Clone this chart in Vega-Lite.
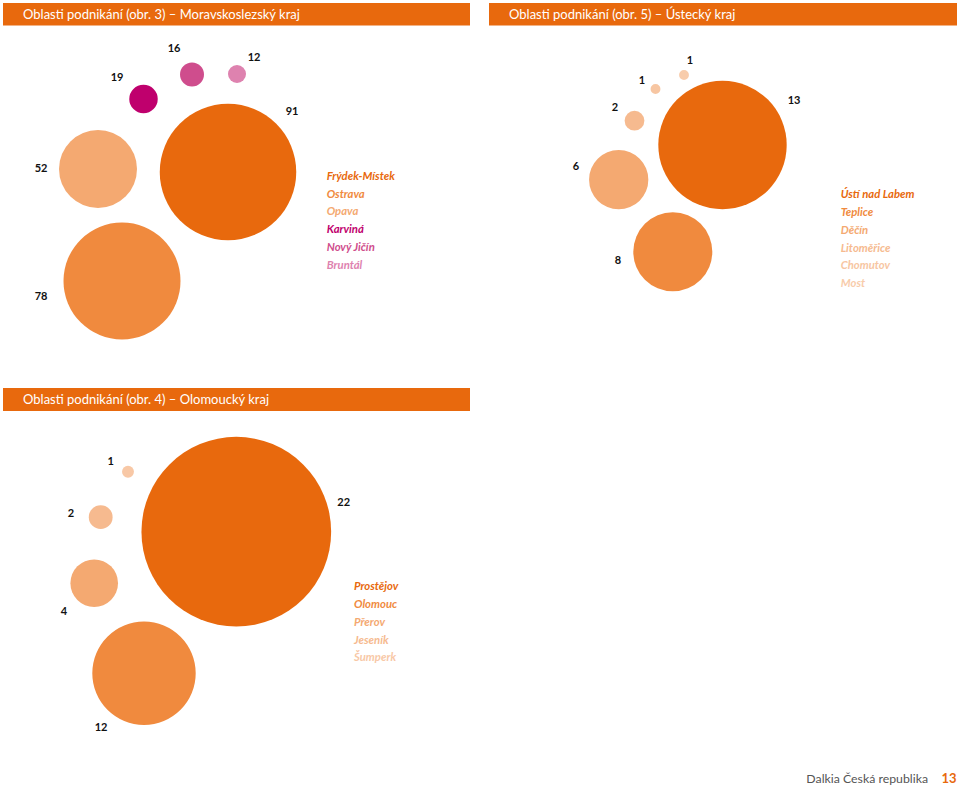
{
  "$schema": "https://vega.github.io/schema/vega-lite/v6.json",
  "padding": {"left": 3, "top": 3, "right": 3, "bottom": 3},
  "background": "white",
  "bounds": "flush",
  "columns": 2,
  "spacing": 19,
  "config": {"view": {"stroke": null}, "font": "Lato"},
  "resolve": {"scale": {"color": "independent", "size": "independent"}},
  "concat": [
    {
      "width": 467, "height": 366,
      "data": {"values": [
        {"district": "Frýdek-Místek", "count": 91, "bx": 225, "by": 169, "lx": 289, "ly": 109},
        {"district": "Ostrava", "count": 78, "bx": 119, "by": 278, "lx": 38, "ly": 294},
        {"district": "Opava", "count": 52, "bx": 95, "by": 166, "lx": 38, "ly": 166},
        {"district": "Karviná", "count": 19, "bx": 140.5, "by": 96, "lx": 114, "ly": 75},
        {"district": "Nový Jičín", "count": 16, "bx": 189, "by": 71.5, "lx": 171, "ly": 46},
        {"district": "Bruntál", "count": 12, "bx": 234, "by": 71, "lx": 251, "ly": 55}
      ]},
      "layer": [
        {
          "layer": [
            {
              "data": {"values": [{"title": "Oblasti podnikání (obr. 3) – Moravskoslezský kraj"}]},
              "mark": {"type": "rect", "color": "#E8690D"},
              "encoding": {
                "x": {"datum": 0, "type": "quantitative", "scale": {"domain": [0, 467], "nice": false, "zero": false}, "axis": null},
                "x2": {"datum": 467},
                "y": {"datum": 0, "type": "quantitative", "scale": {"domain": [0, 366], "nice": false, "zero": false, "reverse": true}, "axis": null},
                "y2": {"datum": 22.5}
              }
            },
            {
              "data": {"values": [{"title": "Oblasti podnikání (obr. 3) – Moravskoslezský kraj"}]},
              "mark": {"type": "text", "align": "left", "baseline": "middle", "color": "white", "fontSize": 13, "font": "Lato"},
              "encoding": {
                "x": {"datum": 20, "type": "quantitative", "scale": {"domain": [0, 467], "nice": false, "zero": false}, "axis": null},
                "y": {"datum": 11.5, "type": "quantitative", "scale": {"domain": [0, 366], "nice": false, "zero": false, "reverse": true}, "axis": null},
                "text": {"field": "title", "type": "nominal"}
              }
            },
            {
              "mark": {"type": "circle", "opacity": 1, "strokeWidth": 0},
              "encoding": {
                "x": {"field": "bx", "type": "quantitative", "scale": {"domain": [0, 467], "nice": false, "zero": false}, "axis": null},
                "y": {"field": "by", "type": "quantitative", "scale": {"domain": [0, 366], "nice": false, "zero": false, "reverse": true}, "axis": null},
                "size": {"field": "count", "type": "quantitative", "scale": {"type": "pow", "exponent": 2, "domain": [0, 91], "range": [0, 18632]}, "legend": null},
                "color": {"field": "district", "type": "nominal", "scale": {"domain": ["Frýdek-Místek", "Ostrava", "Opava", "Karviná", "Nový Jičín", "Bruntál"], "range": ["#E8690D", "#F08A3E", "#F4A971", "#BF006D", "#CF4D8D", "#DE82AF"]}, "legend": null}
              }
            },
            {
              "mark": {"type": "text", "fontWeight": "bold", "fontSize": 11, "color": "#111111", "baseline": "middle", "align": "center", "font": "Lato"},
              "encoding": {
                "x": {"field": "lx", "type": "quantitative", "scale": {"domain": [0, 467], "nice": false, "zero": false}, "axis": null},
                "y": {"field": "ly", "type": "quantitative", "scale": {"domain": [0, 366], "nice": false, "zero": false, "reverse": true}, "axis": null},
                "text": {"field": "count", "type": "quantitative"}
              }
            }
          ]
        },
        {
          "mark": {"type": "text", "align": "left", "baseline": "middle", "fontWeight": "bold", "fontStyle": "italic", "fontSize": 11.3, "font": "Lato"},
          "encoding": {
            "x": {"datum": 323.7, "type": "quantitative", "scale": {"domain": [0, 467], "nice": false, "zero": false}, "axis": null},
            "y": {"field": "district", "type": "nominal", "sort": null, "scale": {"type": "point", "range": [173.7, 263], "padding": 0}, "axis": null},
            "text": {"field": "district", "type": "nominal"},
            "color": {"field": "district", "type": "nominal", "scale": {"domain": ["Frýdek-Místek", "Ostrava", "Opava", "Karviná", "Nový Jičín", "Bruntál"], "range": ["#E8690D", "#F08A3E", "#F4A971", "#BF006D", "#CF4D8D", "#DE82AF"]}, "legend": null}
          }
        }
      ],
      "resolve": {"scale": {"y": "independent"}}
    },
    {
      "width": 468, "height": 366,
      "data": {"values": [
        {"district": "Ústí nad Labem", "count": 13, "bx": 233.5, "by": 142, "lx": 305, "ly": 98},
        {"district": "Teplice", "count": 8, "bx": 183.8, "by": 248.8, "lx": 129, "ly": 258},
        {"district": "Děčín", "count": 6, "bx": 129.7, "by": 176.7, "lx": 87, "ly": 164},
        {"district": "Litoměřice", "count": 2, "bx": 145.5, "by": 117.7, "lx": 126, "ly": 105},
        {"district": "Chomutov", "count": 1, "bx": 166.5, "by": 86, "lx": 153, "ly": 78},
        {"district": "Most", "count": 1, "bx": 195, "by": 72, "lx": 201, "ly": 58}
      ]},
      "layer": [
        {
          "layer": [
            {
              "data": {"values": [{"title": "Oblasti podnikání (obr. 5) – Ústecký kraj"}]},
              "mark": {"type": "rect", "color": "#E8690D"},
              "encoding": {
                "x": {"datum": 0, "type": "quantitative", "scale": {"domain": [0, 468], "nice": false, "zero": false}, "axis": null},
                "x2": {"datum": 468},
                "y": {"datum": 0, "type": "quantitative", "scale": {"domain": [0, 366], "nice": false, "zero": false, "reverse": true}, "axis": null},
                "y2": {"datum": 22.5}
              }
            },
            {
              "data": {"values": [{"title": "Oblasti podnikání (obr. 5) – Ústecký kraj"}]},
              "mark": {"type": "text", "align": "left", "baseline": "middle", "color": "white", "fontSize": 13, "font": "Lato"},
              "encoding": {
                "x": {"datum": 20, "type": "quantitative", "scale": {"domain": [0, 468], "nice": false, "zero": false}, "axis": null},
                "y": {"datum": 11.5, "type": "quantitative", "scale": {"domain": [0, 366], "nice": false, "zero": false, "reverse": true}, "axis": null},
                "text": {"field": "title", "type": "nominal"}
              }
            },
            {
              "mark": {"type": "circle", "opacity": 1, "strokeWidth": 0},
              "encoding": {
                "x": {"field": "bx", "type": "quantitative", "scale": {"domain": [0, 468], "nice": false, "zero": false}, "axis": null},
                "y": {"field": "by", "type": "quantitative", "scale": {"domain": [0, 366], "nice": false, "zero": false, "reverse": true}, "axis": null},
                "size": {"field": "count", "type": "quantitative", "scale": {"type": "pow", "exponent": 2, "domain": [0, 13], "range": [0, 16487]}, "legend": null},
                "color": {"field": "district", "type": "nominal", "scale": {"domain": ["Ústí nad Labem", "Teplice", "Děčín", "Litoměřice", "Chomutov", "Most"], "range": ["#E8690D", "#F08A3E", "#F4A971", "#F6BA8F", "#F7C6A2", "#F8CCAB"]}, "legend": null}
              }
            },
            {
              "mark": {"type": "text", "fontWeight": "bold", "fontSize": 11, "color": "#111111", "baseline": "middle", "align": "center", "font": "Lato"},
              "encoding": {
                "x": {"field": "lx", "type": "quantitative", "scale": {"domain": [0, 468], "nice": false, "zero": false}, "axis": null},
                "y": {"field": "ly", "type": "quantitative", "scale": {"domain": [0, 366], "nice": false, "zero": false, "reverse": true}, "axis": null},
                "text": {"field": "count", "type": "quantitative"}
              }
            }
          ]
        },
        {
          "mark": {"type": "text", "align": "left", "baseline": "middle", "fontWeight": "bold", "fontStyle": "italic", "fontSize": 11.3, "font": "Lato"},
          "encoding": {
            "x": {"datum": 351.7, "type": "quantitative", "scale": {"domain": [0, 468], "nice": false, "zero": false}, "axis": null},
            "y": {"field": "district", "type": "nominal", "sort": null, "scale": {"type": "point", "range": [192, 281.3], "padding": 0}, "axis": null},
            "text": {"field": "district", "type": "nominal"},
            "color": {"field": "district", "type": "nominal", "scale": {"domain": ["Ústí nad Labem", "Teplice", "Děčín", "Litoměřice", "Chomutov", "Most"], "range": ["#E8690D", "#F08A3E", "#F4A971", "#F6BA8F", "#F7C6A2", "#F8CCAB"]}, "legend": null}
          }
        }
      ],
      "resolve": {"scale": {"y": "independent"}}
    },
    {
      "width": 467, "height": 397,
      "data": {"values": [
        {"district": "Prostějov", "count": 22, "bx": 233.3, "by": 143.7, "lx": 340.7, "ly": 114.7},
        {"district": "Olomouc", "count": 12, "bx": 141, "by": 285.2, "lx": 98, "ly": 339.7},
        {"district": "Přerov", "count": 4, "bx": 91.2, "by": 195.2, "lx": 61, "ly": 223.7},
        {"district": "Jeseník", "count": 2, "bx": 97.7, "by": 129.2, "lx": 68, "ly": 126.3},
        {"district": "Šumperk", "count": 1, "bx": 125, "by": 83.7, "lx": 107.7, "ly": 73.7}
      ]},
      "layer": [
        {
          "layer": [
            {
              "data": {"values": [{"title": "Oblasti podnikání (obr. 4) – Olomoucký kraj"}]},
              "mark": {"type": "rect", "color": "#E8690D"},
              "encoding": {
                "x": {"datum": 0, "type": "quantitative", "scale": {"domain": [0, 467], "nice": false, "zero": false}, "axis": null},
                "x2": {"datum": 467},
                "y": {"datum": 0, "type": "quantitative", "scale": {"domain": [0, 397], "nice": false, "zero": false, "reverse": true}, "axis": null},
                "y2": {"datum": 23}
              }
            },
            {
              "data": {"values": [{"title": "Oblasti podnikání (obr. 4) – Olomoucký kraj"}]},
              "mark": {"type": "text", "align": "left", "baseline": "middle", "color": "white", "fontSize": 13, "font": "Lato"},
              "encoding": {
                "x": {"datum": 20, "type": "quantitative", "scale": {"domain": [0, 467], "nice": false, "zero": false}, "axis": null},
                "y": {"datum": 12, "type": "quantitative", "scale": {"domain": [0, 397], "nice": false, "zero": false, "reverse": true}, "axis": null},
                "text": {"field": "title", "type": "nominal"}
              }
            },
            {
              "mark": {"type": "circle", "opacity": 1, "strokeWidth": 0},
              "encoding": {
                "x": {"field": "bx", "type": "quantitative", "scale": {"domain": [0, 467], "nice": false, "zero": false}, "axis": null},
                "y": {"field": "by", "type": "quantitative", "scale": {"domain": [0, 397], "nice": false, "zero": false, "reverse": true}, "axis": null},
                "size": {"field": "count", "type": "quantitative", "scale": {"type": "pow", "exponent": 2, "domain": [0, 4, 12, 22], "range": [0, 2266, 10692, 35985]}, "legend": null},
                "color": {"field": "district", "type": "nominal", "scale": {"domain": ["Prostějov", "Olomouc", "Přerov", "Jeseník", "Šumperk"], "range": ["#E8690D", "#F08A3E", "#F4A971", "#F6BA8F", "#F8C8A6"]}, "legend": null}
              }
            },
            {
              "mark": {"type": "text", "fontWeight": "bold", "fontSize": 11, "color": "#111111", "baseline": "middle", "align": "center", "font": "Lato"},
              "encoding": {
                "x": {"field": "lx", "type": "quantitative", "scale": {"domain": [0, 467], "nice": false, "zero": false}, "axis": null},
                "y": {"field": "ly", "type": "quantitative", "scale": {"domain": [0, 397], "nice": false, "zero": false, "reverse": true}, "axis": null},
                "text": {"field": "count", "type": "quantitative"}
              }
            }
          ]
        },
        {
          "mark": {"type": "text", "align": "left", "baseline": "middle", "fontWeight": "bold", "fontStyle": "italic", "fontSize": 11.3, "font": "Lato"},
          "encoding": {
            "x": {"datum": 351, "type": "quantitative", "scale": {"domain": [0, 467], "nice": false, "zero": false}, "axis": null},
            "y": {"field": "district", "type": "nominal", "sort": null, "scale": {"type": "point", "range": [199.3, 270.3], "padding": 0}, "axis": null},
            "text": {"field": "district", "type": "nominal"},
            "color": {"field": "district", "type": "nominal", "scale": {"domain": ["Prostějov", "Olomouc", "Přerov", "Jeseník", "Šumperk"], "range": ["#E8690D", "#F08A3E", "#F4A971", "#F6BA8F", "#F8C8A6"]}, "legend": null}
          }
        }
      ],
      "resolve": {"scale": {"y": "independent"}}
    },
    {
      "width": 468, "height": 397,
      "layer": [
        {
          "data": {"values": [{"label": "Dalkia Česká republika"}]},
          "mark": {"type": "text", "align": "right", "baseline": "middle", "color": "#555555", "fontSize": 12.3, "font": "Lato"},
          "encoding": {
            "x": {"datum": 439, "type": "quantitative", "scale": {"domain": [0, 468], "nice": false, "zero": false}, "axis": null},
            "y": {"datum": 391, "type": "quantitative", "scale": {"domain": [0, 397], "nice": false, "zero": false, "reverse": true}, "axis": null},
            "text": {"field": "label", "type": "nominal"}
          }
        },
        {
          "data": {"values": [{"label": "13"}]},
          "mark": {"type": "text", "align": "right", "baseline": "middle", "color": "#E8690D", "fontWeight": "bold", "fontSize": 13, "font": "Lato"},
          "encoding": {
            "x": {"datum": 467.5, "type": "quantitative", "scale": {"domain": [0, 468], "nice": false, "zero": false}, "axis": null},
            "y": {"datum": 391, "type": "quantitative", "scale": {"domain": [0, 397], "nice": false, "zero": false, "reverse": true}, "axis": null},
            "text": {"field": "label", "type": "nominal"}
          }
        }
      ]
    }
  ]
}
